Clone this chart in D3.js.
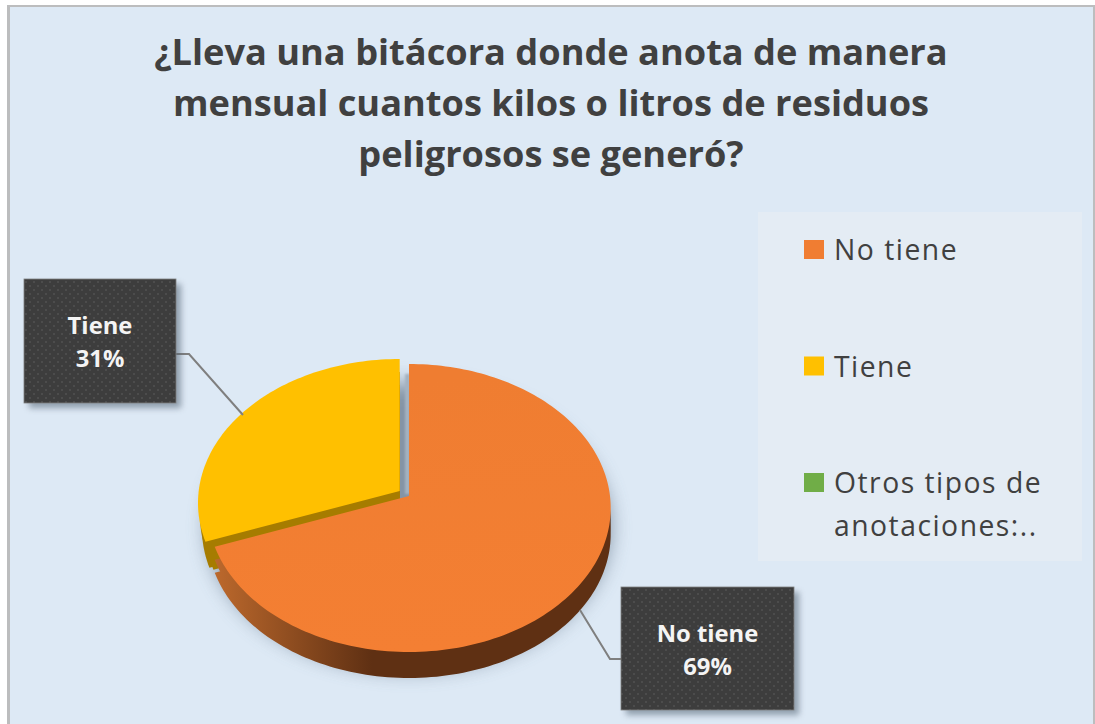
<!DOCTYPE html>
<html><head><meta charset="utf-8">
<script src="https://cdn.jsdelivr.net/npm/d3@7/dist/d3.min.js"></script>
<style>html,body{margin:0;padding:0;background:#fff}svg{display:block}</style>
</head><body><svg id="c" width="1095" height="724"></svg>
<script>
const titleLines=["¿Lleva una bitácora donde anota de manera","mensual cuantos kilos o litros de residuos","peligrosos se generó?"];
const categories=["No tiene","Tiene","Otros tipos de anotaciones:.."];
const values=[69.4,30.6,0];
const colors=["#f07d32","#ffc000","#70ad47"];
const legendLines=[["No tiene"],["Tiene"],["Otros tipos de","anotaciones:.."]];

const svg=d3.select("#c");
const defs=svg.append("defs");
const bl=(id,s)=>defs.append("filter").attr("id",id).attr("x","-40%").attr("y","-40%").attr("width","180%").attr("height","180%")
  .append("feGaussianBlur").attr("stdDeviation",s);
bl("soft",10);bl("boxsh",3);bl("gap",1.2);
defs.append("clipPath").attr("id","yclip").append("rect").attr("x",0).attr("y",0).attr("width",399.7).attr("height",724);
const pat=defs.append("pattern").attr("id","dots").attr("patternUnits","userSpaceOnUse").attr("width",8).attr("height",8);
pat.append("rect").attr("width",8).attr("height",8).attr("fill","#3d3d3d");
[[1,1],[5,5]].forEach(p=>pat.append("rect").attr("x",p[0]).attr("y",p[1]).attr("width",2).attr("height",2).attr("fill","#4c4c4c"));
const wg=defs.append("linearGradient").attr("id","wall").attr("gradientUnits","userSpaceOnUse").attr("x1",216).attr("x2",372).attr("y1",0).attr("y2",0);
wg.append("stop").attr("offset",0).attr("stop-color","#bb682c");
wg.append("stop").attr("offset",1).attr("stop-color","#5f3013");
const tg=defs.append("linearGradient").attr("id","otop").attr("gradientUnits","userSpaceOnUse").attr("x1",400).attr("x2",420).attr("y1",380).attr("y2",650);
tg.append("stop").attr("offset",0).attr("stop-color","#ef7d31");
tg.append("stop").attr("offset",1).attr("stop-color","#f47f33");

svg.append("rect").attr("width",1095).attr("height",724).attr("fill","#fff");
svg.append("rect").attr("x",7).attr("y",5).attr("width",1088).attr("height",719).attr("fill","#bcbdbe");
svg.append("rect").attr("x",10).attr("y",7).attr("width",1083).attr("height",717).attr("fill","#dde9f5");

svg.append("g").selectAll("text").data(titleLines).join("text")
  .attr("x",551).attr("y",(d,i)=>65+i*51).attr("text-anchor","middle")
  .attr("font-family","'Open Sans'").attr("font-weight",700).attr("font-size",36.2).attr("fill","#404040").text(d=>d);

// pie with a slight perspective
const persp=.0833,R=201,Q=143,depth=26;
const project=(a,r,o)=>{const u=Math.sin(a)*r,v=-Math.cos(a)*r,w=1-persp*v;return [o[0]+R*u/w,o[1]+Q*v/w];};
const pie=d3.pie().sort(null).value(d=>d);
const arcs=pie(values);
const line=d3.line();
const sector=(d,o)=>{const n=Math.max(2,Math.ceil((d.endAngle-d.startAngle)*40));
  const pts=d3.range(n+1).map(i=>project(d.startAngle+(d.endAngle-d.startAngle)*i/n,1,o));
  return line([o,...pts])+"Z";};
const oC=[409,496],yC=[399.7,491];
const offs=(o,dx,dy)=>[o[0]+dx,o[1]+dy];
const pieG=svg.append("g");
// ground shadow
pieG.append("path").attr("d",sector({startAngle:0,endAngle:2*Math.PI},[409,515])).attr("fill","#55687c").attr("opacity",.65).attr("filter","url(#soft)");
// gap shadow between slices
pieG.append("rect").attr("x",405).attr("y",374).attr("width",5).attr("height",120).attr("fill","#a4b2c0").attr("filter","url(#gap)");
// walls
const yWalls=pieG.append("g").attr("clip-path","url(#yclip)");
yWalls.append("path").attr("d",sector(arcs[1],offs(yC,4,depth))).attr("fill","#a67c00");
yWalls.append("path").attr("d",sector(arcs[1],offs(yC,8,depth+2))).attr("fill","#a67c00");
yWalls.append("path").attr("d",sector(arcs[1],offs(yC,2,13))).attr("fill","#a67c00");
pieG.append("path").attr("d",sector(arcs[0],offs(oC,0,depth))).attr("fill","url(#wall)");
pieG.append("path").attr("d",sector(arcs[0],offs(oC,0,13))).attr("fill","url(#wall)");
// tops
pieG.append("path").attr("d",sector(arcs[1],yC)).attr("fill",colors[1]);
pieG.append("path").attr("d",sector(arcs[0],oC)).attr("fill","url(#otop)");

// leader lines
const leaders=[[[176,354],[189,354],[243,415]],[[622,659],[610,659],[580,610]]];
svg.append("g").selectAll("path").data(leaders).join("path").attr("d",d=>line(d)).attr("fill","none").attr("stroke","#7f7f7f").attr("stroke-width",2);

// data labels
const boxes=[{i:1,x:24,y:279,w:152,h:124},{i:0,x:621,y:587,w:173,h:123}];
const pct=d3.format(".0%"),tot=d3.sum(values);
const lg=svg.append("g").selectAll("g").data(boxes).join("g");
lg.append("rect").attr("x",d=>d.x+5).attr("y",d=>d.y+5).attr("width",d=>d.w).attr("height",d=>d.h).attr("fill","#4f5f70").attr("opacity",.55).attr("filter","url(#boxsh)");
lg.append("rect").attr("x",d=>d.x).attr("y",d=>d.y).attr("width",d=>d.w).attr("height",d=>d.h).attr("fill","url(#dots)").attr("stroke","#7f8080").attr("stroke-width",.8);
const lab=lg.append("text").attr("text-anchor","middle").attr("font-family","'Open Sans'").attr("font-weight",700).attr("font-size",23.8).attr("fill","#f4f4f4");
lab.append("tspan").attr("x",d=>d.x+d.w/2).attr("y",d=>d.y+55).text(d=>categories[d.i]);
lab.append("tspan").attr("x",d=>d.x+d.w/2).attr("y",d=>d.y+88).text(d=>pct(values[d.i]/tot));

// legend
svg.append("rect").attr("x",758).attr("y",212).attr("width",324).attr("height",349).attr("fill","#e4ecf4");
const leg=svg.append("g").selectAll("g").data(categories).join("g").attr("transform",(d,i)=>`translate(804,${240+i*116.5})`);
leg.append("rect").attr("width",20).attr("height",19).attr("fill",(d,i)=>colors[i]);
leg.each(function(d,i){
  d3.select(this).selectAll("text").data(legendLines[i]).join("text")
   .attr("x",30).attr("y",(t,j)=>20+j*43).attr("font-family","'Open Sans'").attr("font-size",28.3).attr("letter-spacing",1.5).attr("fill","#404040").text(t=>t);
});
</script></body></html>
